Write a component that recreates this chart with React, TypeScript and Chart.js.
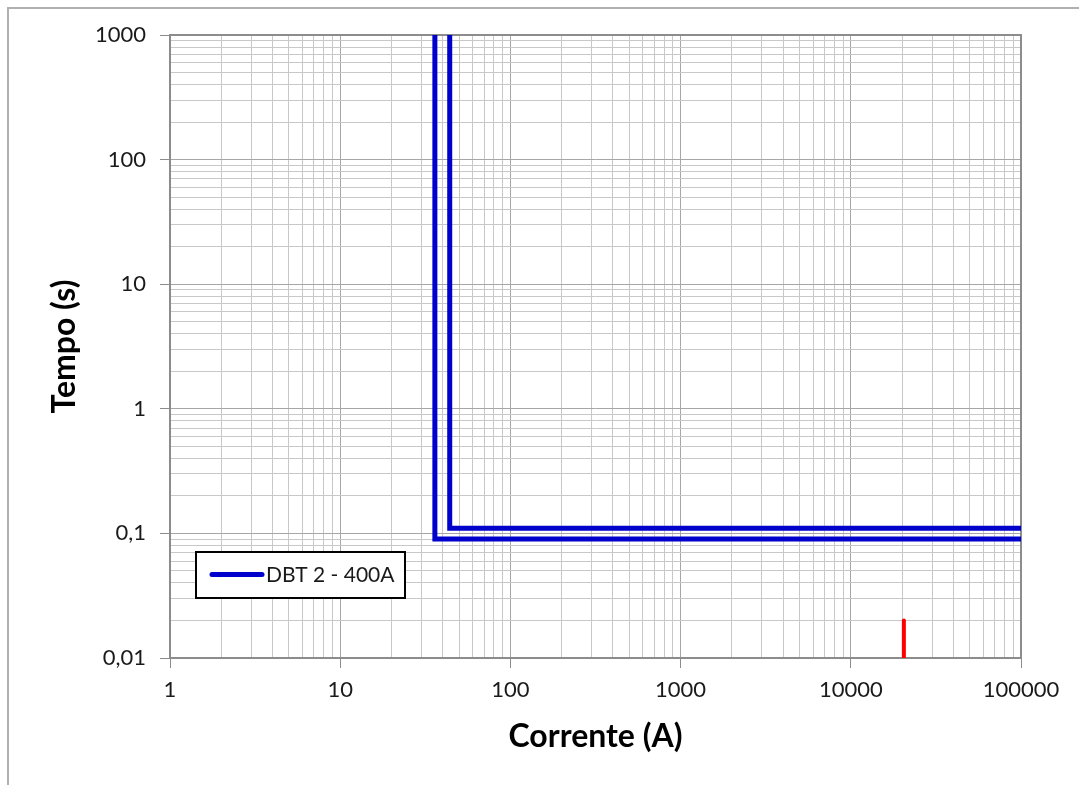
import React, { useEffect, useRef } from 'react';
import { Chart, registerables } from 'chart.js';

Chart.register(...registerables);

// ---- data ----
const seriesName = 'DBT 2 - 400A';
const curveLowX = [36, 36, 100000];
const curveLowY = [1000, 0.09, 0.09];
const curveHighX = [44, 44, 100000];
const curveHighY = [1000, 0.11, 0.11];
const markerX = [20500, 20500];
const markerY = [0.01, 0.02];

const xTickValues = [1, 10, 100, 1000, 10000, 100000];
const xTickLabels = ['1', '10', '100', '1000', '10000', '100000'];
const yTickValues = [0.01, 0.1, 1, 10, 100, 1000];
const yTickLabels = ['0,01', '0,1', '1', '10', '100', '1000'];
const minorMantissas = [1, 2, 3, 4, 5, 6, 7, 8, 9];

const xTitle = 'Corrente (A)';
const yTitle = 'Tempo (s)';

const FONT = 'Lato';
const BLUE = '#0000cc';
const RED = '#ff0000';

function toPoints(xs: number[], ys: number[]) {
  return xs.map((x, i) => ({ x, y: ys[i] }));
}

function buildTicks(majors: number[]) {
  const out: { value: number; major: boolean }[] = [];
  for (let i = 0; i < majors.length - 1; i++) {
    for (const m of minorMantissas) {
      out.push({ value: parseFloat((m * majors[i]).toPrecision(6)), major: m === 1 });
    }
  }
  out.push({ value: majors[majors.length - 1], major: true });
  return out;
}

function labelFor(value: number, majors: number[], labels: string[]) {
  const idx = majors.findIndex((v) => Math.abs(v - value) / v < 1e-6);
  return idx >= 0 ? labels[idx] : '';
}

const gridColor = (c: any) => (c.tick && c.tick.major ? '#a6a6a6' : '#c8c8c8');
const tickColor = (c: any) => (c.tick && c.tick.major ? '#8c8c8c' : 'rgba(0,0,0,0)');

const framePlugin = {
  id: 'frameAndLegend',
  beforeDatasetsDraw(chart: any) {
    const { ctx, chartArea: a } = chart;
    ctx.save();
    ctx.strokeStyle = '#8c8c8c';
    ctx.lineWidth = 2;
    ctx.strokeRect(a.left, a.top, a.right - a.left, a.bottom - a.top);
    ctx.restore();
  },
  afterDatasetsDraw(chart: any) {
    const { ctx } = chart;
    ctx.save();
    // legend box
    ctx.fillStyle = '#ffffff';
    ctx.fillRect(196, 552, 209, 46);
    ctx.strokeStyle = '#000000';
    ctx.lineWidth = 2;
    ctx.strokeRect(196, 552, 209, 46);
    // sample line
    ctx.strokeStyle = BLUE;
    ctx.lineWidth = 5;
    ctx.lineCap = 'round';
    ctx.beginPath();
    ctx.moveTo(212, 574.5);
    ctx.lineTo(262, 574.5);
    ctx.stroke();
    // text
    ctx.fillStyle = '#1a1a1a';
    ctx.font = `21px ${FONT}`;
    ctx.textBaseline = 'middle';
    ctx.textAlign = 'left';
    ctx.fillText(seriesName, 266, 575);
    ctx.restore();
  },
};

export default function App() {
  const ref = useRef<HTMLCanvasElement | null>(null);

  useEffect(() => {
    document.body.style.overflow = 'hidden';
    if (!ref.current) return;
    const chart = new Chart(ref.current, {
      type: 'line',
      data: {
        datasets: [
          {
            label: seriesName,
            data: toPoints(curveLowX, curveLowY),
            borderColor: BLUE,
            backgroundColor: BLUE,
            borderWidth: 5,
            pointRadius: 0,
            tension: 0,
            borderJoinStyle: 'miter',
            borderCapStyle: 'butt',
          },
          {
            label: seriesName + ' ',
            data: toPoints(curveHighX, curveHighY),
            borderColor: BLUE,
            backgroundColor: BLUE,
            borderWidth: 5,
            pointRadius: 0,
            tension: 0,
            borderJoinStyle: 'miter',
            borderCapStyle: 'butt',
          },
          {
            label: 'Icc',
            data: toPoints(markerX, markerY),
            borderColor: RED,
            backgroundColor: RED,
            borderWidth: 4,
            pointRadius: 0,
            tension: 0,
            borderCapStyle: 'round',
          },
        ],
      } as any,
      options: {
        responsive: false,
        animation: false,
        layout: { padding: { left: 0, top: 35, right: 58, bottom: 0 } },
        plugins: {
          legend: { display: false },
          tooltip: { enabled: false },
        },
        scales: {
          x: {
            type: 'logarithmic',
            min: 1,
            max: 100000,
            afterBuildTicks: (scale: any) => {
              scale.ticks = buildTicks(xTickValues);
            },
            afterFit: (scale: any) => {
              scale.height = 127;
            },
            border: { display: false },
            grid: {
              color: gridColor,
              tickColor: tickColor,
              tickLength: 10,
              lineWidth: 1,
            },
            ticks: {
              autoSkip: false,
              maxRotation: 0,
              minRotation: 0,
              padding: 9,
              color: '#1a1a1a',
              font: { family: FONT, size: 22 },
              callback: (v: any) => labelFor(Number(v), xTickValues, xTickLabels),
            },
            title: {
              display: true,
              text: xTitle,
              color: '#000000',
              font: { family: FONT, size: 32, weight: 'bold' },
              padding: { top: 0, bottom: 29 },
            },
          },
          y: {
            type: 'logarithmic',
            min: 0.01,
            max: 1000,
            afterBuildTicks: (scale: any) => {
              scale.ticks = buildTicks(yTickValues);
            },
            afterFit: (scale: any) => {
              scale.width = 170;
            },
            border: { display: false },
            grid: {
              color: gridColor,
              tickColor: tickColor,
              tickLength: 10,
              lineWidth: 1,
            },
            ticks: {
              autoSkip: false,
              padding: 14,
              color: '#1a1a1a',
              font: { family: FONT, size: 22 },
              callback: (v: any) => labelFor(Number(v), yTickValues, yTickLabels),
            },
            title: {
              display: true,
              text: yTitle,
              color: '#000000',
              font: { family: FONT, size: 32, weight: 'bold' },
              padding: { top: 45, bottom: 0 },
            },
          },
        },
      } as any,
      plugins: [framePlugin],
    });
    return () => chart.destroy();
  }, []);

  return (
    <div>
      <div
        style={{
          position: 'absolute',
          left: 7,
          top: 7,
          width: 1072,
          height: 778,
          borderLeft: '2px solid #b0b0b0',
          borderTop: '2px solid #b0b0b0',
          boxSizing: 'border-box',
        }}
      />
      <canvas
        ref={ref}
        width={1079}
        height={785}
        style={{ position: 'absolute', left: 0, top: 0, width: 1079, height: 785 }}
      />
    </div>
  );
}
